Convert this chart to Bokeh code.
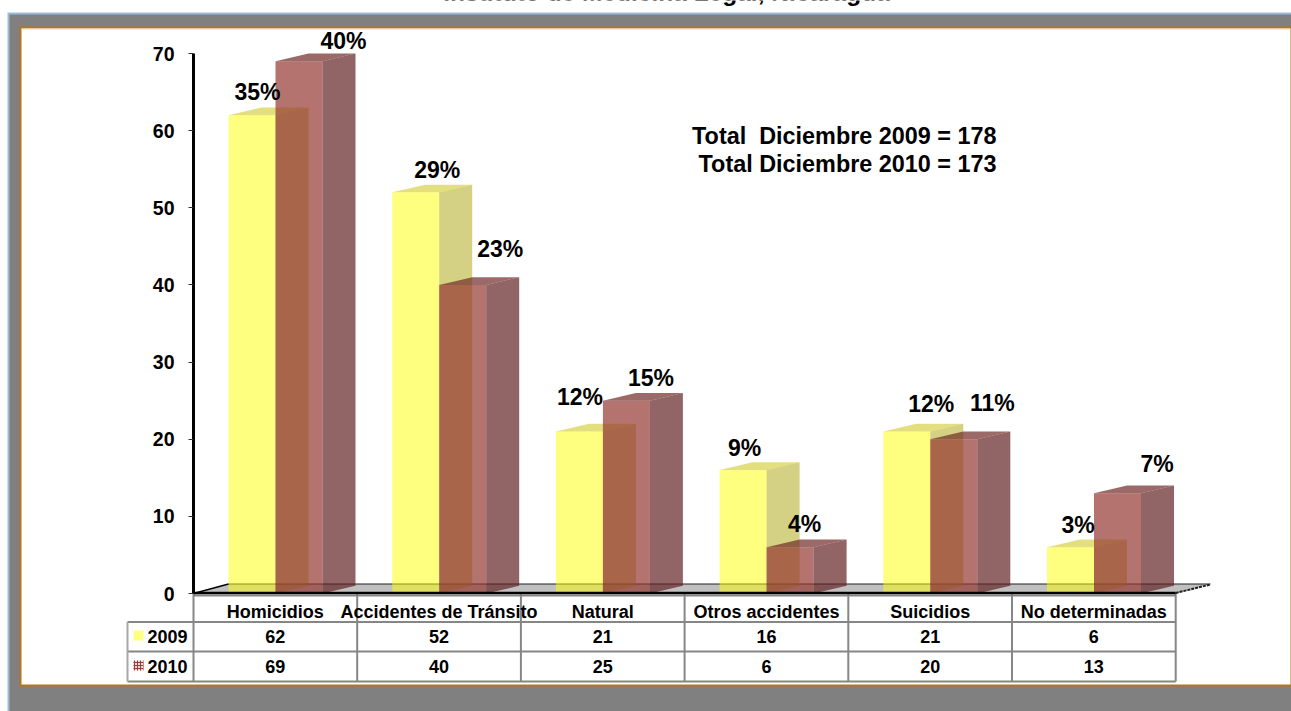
from bokeh.plotting import figure
from bokeh.models import LinearAxis, FixedTicker, Range1d
from bokeh.core.properties import value
from bokeh.embed import file_html
from bokeh.resources import INLINE

categories = ["Homicidios", "Accidentes de Tránsito", "Natural", "Otros accidentes", "Suicidios", "No determinadas"]
series_names = ["2009", "2010"]
values_2009 = [62, 52, 21, 16, 21, 6]
values_2010 = [69, 40, 25, 6, 20, 13]
pct_2009 = ["35%", "29%", "12%", "9%", "12%", "3%"]
pct_2010 = ["40%", "23%", "15%", "4%", "11%", "7%"]
y_ticks = [0, 10, 20, 30, 40, 50, 60, 70]
title_text = "Instituto de Medicina Legal, Nicaragua"
note_lines = ["Total\u00a0 Diciembre 2009 = 178", "Total Diciembre 2010 = 173"]

W, H = 1291, 711
X0, SX = 193.0, 163.7      # pixel of category origin, pixels per category
Y0, SY = 593.0, 540 / 70   # pixel of value 0, pixels per unit


def px(x):
    return (x - X0) / SX


def py(y):
    return (Y0 - y) / SY


FONT = value("Liberation Sans")
p = figure(width=W, height=H, output_backend="svg", toolbar_location=None,
           x_axis_location=None, y_axis_location=None,
           x_range=Range1d(px(0), px(W)), y_range=Range1d(py(H), py(0)),
           min_border=0, outline_line_color=None, margin=(0, 0, 0, 0),
           background_fill_color="white", border_fill_color="white")
p.grid.visible = False


def box(l, t, r, b, color):
    p.quad(left=[px(l)], right=[px(r)], top=[py(t)], bottom=[py(b)],
           fill_color=color, line_color=None)


# page frame
box(7, 12, W, H, "#9DBBDD")
box(9, 14, W, H, "#808080")
box(19, 26, W, 686, "#B5751C")
box(21, 28, 1290, 684, "white")
box(21, 28, 1290, 29, "#F0D8B8")

# floor
p.patch(x=[px(193), px(228), px(1210), px(1176)], y=[py(593), py(583.5), py(583.5), py(593)],
        fill_color="#C0C0C0", line_color=None)
p.line(x=[px(228), px(1210)], y=[py(583.5), py(583.5)], line_color="#202020", line_width=1)

# table lines
GRID = "#868686"
for k in range(7):
    p.line(x=[k, k], y=[py(593), py(681)], line_color=GRID, line_width=2)
for yy in (621.5, 651, 681):
    p.line(x=[px(127), 6], y=[py(yy), py(yy)], line_color=GRID, line_width=2)
p.line(x=[px(127), px(127)], y=[py(621.5), py(681)], line_color="#A8A8A8", line_width=2)
p.line(x=[0, 6], y=[py(595), py(595)], line_color=GRID, line_width=2)

# 3-D bars: front, side, top
BAR_W = 47 / SX
DEPTH_X = 33 / SX
DEPTH_Y = 1.0
START = [35 / SX, 82 / SX]


def bars(vals, start, front, side, top, alpha):
    xs = [i + start for i in range(len(vals))]
    p.quad(left=xs, right=[x + BAR_W for x in xs], bottom=0, top=vals,
           fill_color=front, fill_alpha=alpha, line_color=None)
    p.patches(xs=[[x + BAR_W, x + BAR_W + DEPTH_X, x + BAR_W + DEPTH_X, x + BAR_W] for x in xs],
              ys=[[0, DEPTH_Y, v + DEPTH_Y, v] for v in vals],
              fill_color=side, fill_alpha=alpha, line_color=None)
    p.patches(xs=[[x, x + DEPTH_X, x + BAR_W + DEPTH_X, x + BAR_W] for x in xs],
              ys=[[v, v + DEPTH_Y, v + DEPTH_Y, v] for v in vals],
              fill_color=top, fill_alpha=alpha, line_color=None)
    return xs


xs09 = bars(values_2009, START[0], "#FFFF00", "#ABA309", "#C7BF00", 0.5)
xs10 = bars(values_2010, START[1], "#943430", "#602020", "#6E2724", 0.69)

# floor front edges
p.line(x=[0, 6], y=[py(592.5), py(592.5)], line_color="black", line_width=2.5)
p.line(x=[0, px(228)], y=[0, py(583.5)], line_color="black", line_width=1.5)
p.line(x=[6, px(1210)], y=[py(592.5), py(584)], line_color="#202020", line_width=2, line_dash="3 1")


def label(x, y, text, size, align="center", baseline="middle", **kw):
    return p.text(x=x, y=y, text=text, text_font=FONT, text_font_style="bold",
                  text_font_size=size, text_align=align, text_baseline=baseline,
                  text_color="black", **kw)


# percentage labels
label(xs09, values_2009, pct_2009, "23px", baseline="alphabetic",
      x_offset=[29, 45, 24, 25, 48, 31], y_offset=[-23, -22, -35, -22, -28, -22])
label(xs10, values_2010, pct_2010, "23px", baseline="alphabetic",
      x_offset=[68, 61, 48, 38, 62, 63], y_offset=[-20, -36, -23, -23, -36, -29])

# table contents
centers = [i + 0.5 for i in range(len(categories))]
label(centers, [py(611)] * 6, categories, "18px")
label(centers, [py(636)] * 6, [str(v) for v in values_2009], "18px")
label(centers, [py(665.5)] * 6, [str(v) for v in values_2010], "18px")
label([px(147)] * 2, [py(636), py(665.5)], series_names, "18px", align="left")
box(133, 630, 143, 640, "#FFFF80")
p.quad(left=[px(133)], right=[px(143)], top=[py(660)], bottom=[py(670)],
       fill_color="#F0D8D8", line_color=None, hatch_pattern="cross", hatch_color="#9A3D3A",
       hatch_scale=3, hatch_weight=1)

# annotation and clipped title
label([px(996)] * 2, [py(135), py(163)], note_lines, "23.4px", align="right")
label([px(666)], [py(0)], [title_text], "24.5px", baseline="alphabetic", y_offset=[-8])

axis = LinearAxis(fixed_location=0, bounds=(0, 70), ticker=FixedTicker(ticks=y_ticks),
                  axis_line_color="black", axis_line_width=3,
                  major_tick_in=0, major_tick_out=5, major_tick_line_color="#303030",
                  major_tick_line_width=1, minor_tick_line_color=None,
                  major_label_standoff=14, major_label_text_font="Liberation Sans",
                  major_label_text_font_style="bold", major_label_text_font_size="19.5px",
                  major_label_text_color="black")
p.add_layout(axis, "left")

open("out.html", "w").write(file_html(p, INLINE))
